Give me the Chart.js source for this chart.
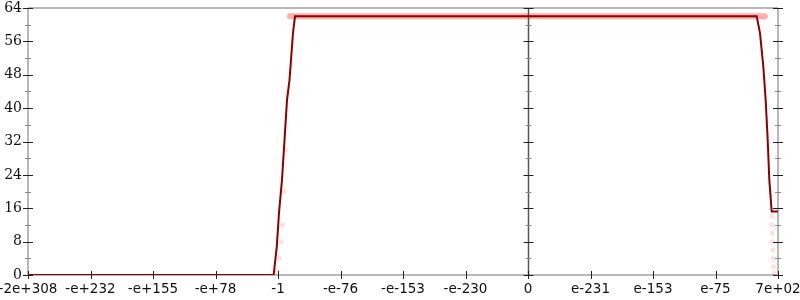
<!DOCTYPE html>
<html>
<head>
<meta charset="utf-8">
<script src="https://cdn.jsdelivr.net/npm/chart.js@4/dist/chart.umd.min.js"></script>
<style>
  html, body { margin: 0; background: #fff; }
  #wrap { width: 800px; height: 300px; }
</style>
</head>
<body>
<div id="wrap"><canvas id="c"></canvas></div>
<script>
// x axis is an ordinal float space: one unit per tick label
const xTickLabels = ["-2e+308", "-e+232", "-e+155", "-e+78", "-1", "-e-76", "-e-153",
                     "-e-230", "0", "e-231", "e-153", "e-75", "7e+02"];

// dark summary line
const lineX = [0, 3.93, 3.98, 4.016, 4.064, 4.144, 4.184, 4.24, 4.272,
               11.659, 11.712, 11.765, 11.803, 11.835, 11.861, 11.899, 12];
const lineY = [0, 0, 6.7, 14.9, 22.8, 41.9, 46.7, 58, 62,
               62, 58, 50, 41.9, 32.4, 22.8, 15.2, 15.2];

// translucent band of raw samples along the plateau
const bandX = [4.19, 11.79];
const bandY = [62, 62];

// scattered faint samples
const spreadX = [3.99, 4.02, 4.05, 4.07, 4.10, 4.13, 11.90, 11.90, 11.91, 11.91, 11.92, 11.92, 11.93, 11.94];
const spreadY = [1, 4, 8, 12, 20, 30, 14, 12, 10, 8, 6, 4, 2, 0.5];

const toPoints = (xs, ys) => xs.map((v, i) => ({ x: v, y: ys[i] }));

const axesPlugin = {
  id: 'axes',
  beforeDatasetsDraw(chart) {
    const { ctx, chartArea: a, scales: { x, y } } = chart;
    ctx.save();
    const seg = (x1, y1, x2, y2) => { ctx.beginPath(); ctx.moveTo(x1, y1); ctx.lineTo(x2, y2); ctx.stroke(); };

    // frame
    ctx.lineWidth = 2;
    ctx.strokeStyle = '#b8b8b8';
    seg(a.left, a.top, a.right, a.top);
    seg(a.left, a.bottom, a.right, a.bottom);
    seg(a.left, a.top, a.left, a.bottom);
    seg(a.right, a.top, a.right, a.bottom);

    // zero axis in the middle
    const xm = Math.round(x.getPixelForValue(8)) + 0.5;
    ctx.lineWidth = 1.5;
    ctx.strokeStyle = '#555';
    seg(xm, a.top, xm, a.bottom);

    // y ticks on left, middle and right axes
    ctx.lineWidth = 1;
    [a.left, xm, a.right].forEach(px => {
      for (let v = 0; v <= 64; v += 4) {
        const py = Math.round(y.getPixelForValue(v)) + 0.5;
        if (v % 8 === 0) {
          ctx.strokeStyle = '#222';
          seg(px - 5, py, px + 5, py);
        } else {
          ctx.strokeStyle = '#888';
          seg(px - 3, py, px + 3, py);
        }
      }
    });

    // x ticks
    ctx.strokeStyle = '#222';
    for (let i = 0; i < xTickLabels.length; i++) {
      const px = Math.round(x.getPixelForValue(i)) + 0.5;
      seg(px, a.bottom - 4, px, a.bottom + 4);
    }
    ctx.restore();
  }
};

new Chart(document.getElementById('c'), {
  type: 'line',
  data: {
    datasets: [
      {
        data: toPoints(lineX, lineY),
        borderColor: '#8b0000',
        borderWidth: 2,
        pointRadius: 0,
        tension: 0
      },
      {
        data: toPoints(bandX, bandY),
        borderColor: 'rgba(255,20,20,0.35)',
        borderWidth: 6,
        borderCapStyle: 'round',
        pointRadius: 0
      },
      {
        type: 'scatter',
        data: toPoints(spreadX, spreadY),
        backgroundColor: 'rgba(255,0,0,0.12)',
        borderWidth: 0,
        pointRadius: 2.5
      }
    ]
  },
  options: {
    responsive: true,
    maintainAspectRatio: false,
    animation: false,
    layout: { padding: { top: 8, right: 22, left: 0, bottom: 0 } },
    plugins: { legend: { display: false }, tooltip: { enabled: false } },
    scales: {
      x: {
        type: 'linear',
        min: 0,
        max: 12,
        grid: { display: false, drawTicks: false },
        border: { display: false },
        afterBuildTicks: s => { s.ticks = xTickLabels.map((_, i) => ({ value: i })); },
        afterFit: s => { s.height = 25; s.paddingLeft = 0; s.paddingRight = 0; },
        ticks: {
          autoSkip: false,
          maxRotation: 0,
          padding: 6,
          color: '#111',
          font: { family: 'DejaVu Sans', size: 13.5 },
          callback: v => xTickLabels[v]
        }
      },
      y: {
        min: 0,
        max: 64,
        grid: { display: false, drawTicks: false },
        border: { display: false },
        afterFit: s => { s.width = 28; s.paddingTop = 0; s.paddingBottom = 0; },
        ticks: {
          stepSize: 8,
          padding: 6,
          color: '#111',
          font: { family: 'DejaVu Serif', size: 14 }
        }
      }
    }
  },
  plugins: [axesPlugin]
});
</script>
</body>
</html>
